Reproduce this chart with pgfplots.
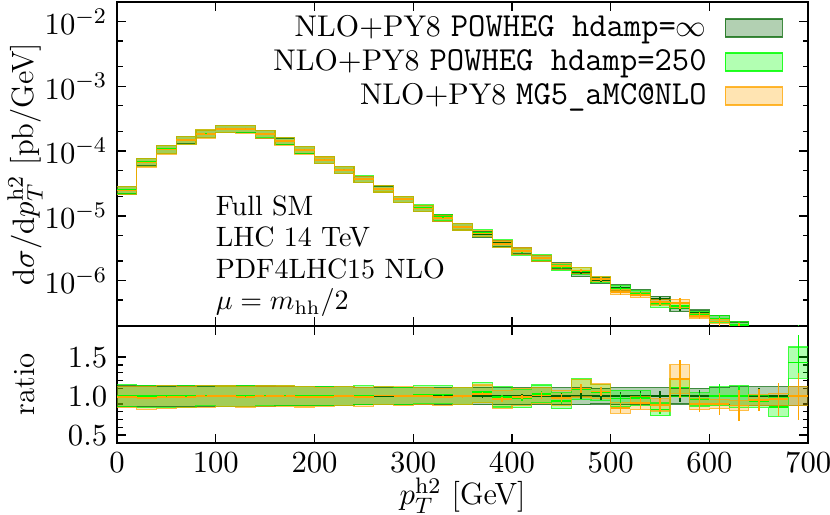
\documentclass[border=0pt]{standalone}
\usepackage{pgfplots}
\pgfplotsset{compat=1.18}
\usepgfplotslibrary{fillbetween}
\usepackage{pgfplotstable}

\definecolor{dkg}{HTML}{006400}
\definecolor{ltg}{HTML}{00FF00}
\definecolor{org}{HTML}{FFA500}

% x = lower bin edge, c = central value (hdamp=inf),
% d* = relative scale band, e* = relative stat. error, r* = ratio to hdamp=inf
\pgfplotstableread{
x    c        dA   eA     rB   dB   eB     rC   dC   eC
0    2.5e-5   0.13 0.005  1.01 0.14 0.005  0.99 0.14 0.006
20   6.8e-5   0.13 0.004  1.00 0.14 0.004  0.98 0.15 0.005
40   1.07e-4  0.13 0.004  1.00 0.14 0.004  0.99 0.15 0.004
60   1.48e-4  0.13 0.004  1.00 0.14 0.004  0.99 0.14 0.004
80   1.85e-4  0.13 0.004  1.01 0.13 0.004  1.00 0.14 0.004
100  2.2e-4   0.13 0.004  1.00 0.13 0.004  1.00 0.13 0.004
120  2.2e-4   0.13 0.004  1.00 0.13 0.004  0.99 0.13 0.004
140  1.82e-4  0.13 0.004  1.01 0.13 0.004  1.00 0.13 0.005
160  1.42e-4  0.12 0.005  1.01 0.13 0.005  1.00 0.13 0.005
180  1.04e-4  0.12 0.005  1.00 0.12 0.005  0.99 0.13 0.006
200  7.3e-5   0.12 0.006  1.00 0.12 0.006  0.99 0.12 0.007
220  5.15e-5  0.12 0.007  1.00 0.12 0.007  1.00 0.12 0.008
240  3.7e-5   0.11 0.008  1.01 0.12 0.008  0.99 0.12 0.009
260  2.6e-5   0.11 0.009  1.01 0.11 0.009  1.01 0.11 0.010
280  1.8e-5   0.11 0.010  1.00 0.11 0.010  1.00 0.12 0.012
300  1.3e-5   0.11 0.012  1.02 0.11 0.012  1.00 0.11 0.014
320  9.3e-6   0.11 0.014  1.02 0.11 0.014  0.99 0.11 0.016
340  6.8e-6   0.11 0.016  1.00 0.11 0.016  1.00 0.11 0.018
360  5.2e-6   0.11 0.02   1.05 0.12 0.02   1.03 0.11 0.02
380  3.8e-6   0.11 0.02   0.99 0.13 0.02   0.96 0.12 0.03
400  2.9e-6   0.11 0.03   0.97 0.12 0.03   0.99 0.11 0.03
420  2.2e-6   0.11 0.03   1.03 0.11 0.03   1.01 0.10 0.04
440  1.7e-6   0.11 0.04   0.94 0.11 0.04   0.98 0.10 0.05
460  1.3e-6   0.11 0.04   1.09 0.12 0.04   1.10 0.10 0.05
480  1.0e-6   0.10 0.05   1.05 0.10 0.05   1.06 0.09 0.06
500  7.8e-7   0.11 0.05   0.97 0.11 0.06   0.85 0.08 0.08
520  6.6e-7   0.11 0.06   0.98 0.10 0.06   0.91 0.09 0.08
540  5.2e-7   0.11 0.07   0.83 0.10 0.07   0.89 0.09 0.10
560  3.7e-7   0.10 0.07   1.11 0.10 0.08   1.22 0.15 0.20
580  3.2e-7   0.10 0.08   0.96 0.09 0.09   0.90 0.08 0.12
600  2.6e-7   0.11 0.09   1.00 0.12 0.15   0.90 0.07 0.15
620  2.05e-7  0.12 0.10   1.00 0.14 0.13   0.88 0.07 0.22
640  1.75e-7  0.12 0.11   0.93 0.08 0.12   0.95 0.07 0.15
660  1.45e-7  0.12 0.12   0.86 0.14 0.14   0.96 0.08 0.22
680  1.15e-7  0.12 0.13   1.43 0.14 0.25   1.00 0.12 0.30
700  1.15e-7  0.12 0.13   1.43 0.14 0.25   1.00 0.12 0.30
}\histo

% #1 path name, #2 colour, #3 upper, #4 lower, #5 central
\newcommand{\band}[5]{%
  \addplot[const plot mark left, name path=#1u, draw=#2, draw opacity=0.7, line width=0.4pt, forget plot]
    table[x=x, y expr={#3}] {\histo};
  \addplot[const plot mark left, name path=#1l, draw=#2, draw opacity=0.7, line width=0.4pt, forget plot]
    table[x=x, y expr={#4}] {\histo};
  \addplot[fill=#2, fill opacity=0.3, draw=none, forget plot] fill between[of=#1u and #1l];
  \addplot[jump mark left, draw=#2, line width=0.6pt, forget plot]
    table[x=x, y expr={#5}] {\histo};
}
% #1 colour, #2 value, #3 error
\newcommand{\errs}[3]{%
  \addplot[draw=none, mark=none, forget plot, skip coords between index={35}{36},
    error bars/.cd, y dir=both, y explicit, error mark=none,
    error bar style={draw=#1, line width=0.5pt}]
    table[x expr=\thisrow{x}+10, y expr={#2}, y error expr={#3}] {\histo};
}

\pgfplotsset{
  hist/.style={
    scale only axis, width=246.8pt,
    xmin=0, xmax=700, xtick={0,100,...,700},
    tick align=inside, tick pos=both,
    major tick length=3.2pt, minor tick length=2pt,
    tick style={black, line width=0.5pt},
    axis line style={black, line width=0.6pt},
    tick label style={font=\fontsize{11}{13}\selectfont},
    label style={font=\fontsize{11}{13}\selectfont},
  }
}
\newcommand{\lgtt}[1]{{\fontsize{12}{13}\selectfont\ttfamily #1}}

\begin{document}
\begin{tikzpicture}
\begin{axis}[hist, name=top,
  at={(0pt,41.8pt)}, anchor=south west, height=115.7pt,
  ymode=log, ymin=2e-7, ymax=2e-2,
  ytick={1e-6,1e-5,1e-4,1e-3,1e-2},
  minor ytick={2e-7,5e-7,2e-6,5e-6,2e-5,5e-5,2e-4,5e-4,2e-3,5e-3},
  xticklabels={},
  ylabel={$\mathrm{d}\sigma/\mathrm{d}p_T^{\mathrm{h2}}$ [pb/GeV]},
  ylabel style={at={(rel axis cs:-0.1333,0.5)}, anchor=center},
  legend plot pos=right, legend cell align=right,
  legend style={draw=none, fill=none, at={(rel axis cs:0.977,0.995)}, anchor=north east,
    font=\fontsize{10.7}{12}\selectfont, row sep=-0.9pt, column sep=4.4pt},
]
  \addlegendimage{legend image code/.code={\draw[fill=dkg, fill opacity=0.3, draw=dkg, draw opacity=0.75, line width=0.6pt] (0pt,-3.1pt) rectangle (20.4pt,3.1pt);}}
  \addlegendentry{NLO$+$PY8 \lgtt{POWHEG hdamp=}$\infty$}
  \addlegendimage{legend image code/.code={\draw[fill=ltg, fill opacity=0.3, draw=ltg, draw opacity=0.85, line width=0.6pt] (0pt,-3.1pt) rectangle (20.4pt,3.1pt);}}
  \addlegendentry{NLO$+$PY8 \lgtt{POWHEG hdamp=250}}
  \addlegendimage{legend image code/.code={\draw[fill=org, fill opacity=0.3, draw=org, draw opacity=0.8, line width=0.6pt] (0pt,-3.1pt) rectangle (20.4pt,3.1pt);}}
  \addlegendentry{NLO$+$PY8 \lgtt{MG5\_aMC@NLO}}

  \band{a}{dkg}{\thisrow{c}*(1+\thisrow{dA})}{\thisrow{c}*(1-\thisrow{dA})}{\thisrow{c}}
  \band{b}{ltg}{\thisrow{c}*\thisrow{rB}*(1+\thisrow{dB})}{\thisrow{c}*\thisrow{rB}*(1-\thisrow{dB})}{\thisrow{c}*\thisrow{rB}}
  \band{o}{org}{\thisrow{c}*\thisrow{rC}*(1+\thisrow{dC})}{\thisrow{c}*\thisrow{rC}*(1-\thisrow{dC})}{\thisrow{c}*\thisrow{rC}}
  \errs{dkg}{\thisrow{c}}{\thisrow{c}*\thisrow{eA}}
  \errs{ltg}{\thisrow{c}*\thisrow{rB}}{\thisrow{c}*\thisrow{rB}*\thisrow{eB}}
  \errs{org}{\thisrow{c}*\thisrow{rC}}{\thisrow{c}*\thisrow{rC}*\thisrow{eC}}

  \node[anchor=north west, align=left, font=\fontsize{10}{11.3}\selectfont, inner sep=0pt]
    at (rel axis cs:0.142,0.405)
    {Full SM\\LHC 14 TeV\\PDF4LHC15 NLO\\$\mu=m_{\mathrm{hh}}/2$};
\end{axis}

\begin{axis}[hist, name=bot,
  at={(0pt,0pt)}, anchor=south west, height=41.8pt,
  ymin=0.4, ymax=1.9, ytick={0.5,1.0,1.5}, minor y tick num=4,
  yticklabel style={/pgf/number format/.cd, fixed, fixed zerofill, precision=1},
  xlabel={$p_T^{\mathrm{h2}}$ [GeV]},
  xlabel style={at={(rel axis cs:0.5,-0.45)}, anchor=center},
  ylabel={ratio},
  ylabel style={at={(rel axis cs:-0.1333,0.5)}, anchor=center},
]
  \band{ra}{dkg}{1+\thisrow{dA}}{1-\thisrow{dA}}{1}
  \band{rb}{ltg}{\thisrow{rB}*(1+\thisrow{dB})}{\thisrow{rB}*(1-\thisrow{dB})}{\thisrow{rB}}
  \band{ro}{org}{\thisrow{rC}*(1+\thisrow{dC})}{\thisrow{rC}*(1-\thisrow{dC})}{\thisrow{rC}}
  \errs{dkg}{1}{\thisrow{eA}}
  \errs{ltg}{\thisrow{rB}}{\thisrow{rB}*\thisrow{eB}}
  \errs{org}{\thisrow{rC}}{\thisrow{rC}*\thisrow{eC}}
\end{axis}
\pgfresetboundingbox
\path (-41.8pt,-25.7pt) rectangle (254.6pt,158.2pt);
\end{tikzpicture}
\end{document}
